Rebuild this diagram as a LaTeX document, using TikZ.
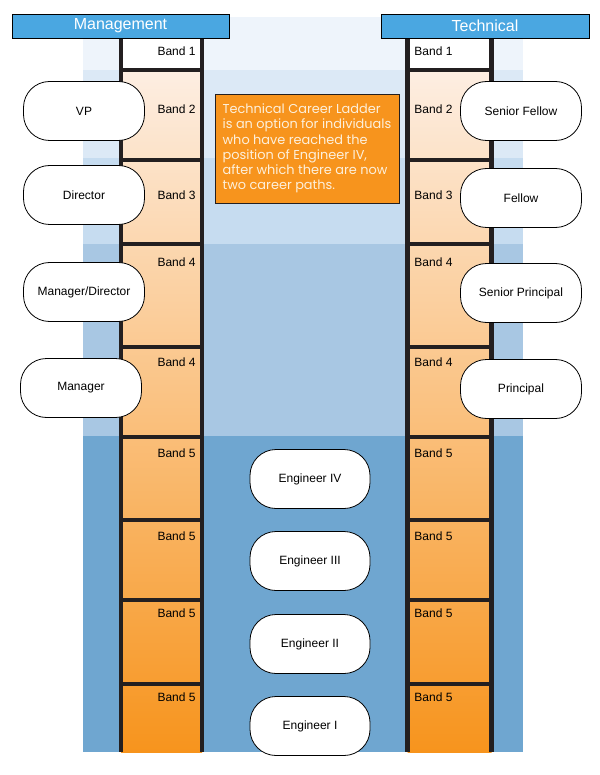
\documentclass[tikz,border=0pt]{standalone}
\usepackage{fontspec}
\setmainfont{Liberation Sans}
\newfontfamily\notefont{Poppins}

\definecolor{headblue}{HTML}{4AA7E1}
\definecolor{skyA}{HTML}{EEF4FB}
\definecolor{skyB}{HTML}{DCE9F6}
\definecolor{skyC}{HTML}{C6DCF0}
\definecolor{skyD}{HTML}{A8C7E3}
\definecolor{skyE}{HTML}{6FA6D0}
\definecolor{peach}{HTML}{FDEEE2}
\definecolor{deeporange}{HTML}{F7941D}
\definecolor{notetext}{HTML}{FDF0DC}
\definecolor{rail}{HTML}{231F20}

\begin{document}
\begin{tikzpicture}[x=1pt, y=-1pt, thick,
  header/.style={draw=black, fill=headblue, text=white, minimum height=24pt,
    inner sep=0pt, font=\fontsize{16}{18}\selectfont},
  rank/.style={draw=black, fill=white, rounded corners=26pt, minimum width=121pt,
    minimum height=59pt, inner sep=0pt, font=\fontsize{12}{14}\selectfont},
  bandlabel/.style={inner sep=0pt, font=\fontsize{12}{14}\selectfont},
  note/.style={draw=rail, fill=deeporange, text=notetext, align=left,
    minimum width=184pt, minimum height=109pt, inner sep=2pt,
    font={\notefont\fontsize{12.9}{15.2}\selectfont}}]
  \useasboundingbox (0,0) rectangle (599,775);

  % 1. Blue background, lighter towards the top
  \fill[skyA] (83,17) rectangle (523,70);
  \fill[skyB] (83,70) rectangle (523,158);
  \fill[skyC] (83,158) rectangle (523,244);
  \fill[skyD] (83,244) rectangle (523,436);
  \fill[skyE] (83,436) rectangle (523,752);

  % 2. Ladder insides: Band 1 white, then peach fading to orange
  \foreach \l/\r in {121/202, 407.5/491.5} {
    \fill[white] (\l,38) rectangle (\r,70);
    \shade[top color=peach, bottom color=deeporange] (\l,70) rectangle (\r,752);
  }

  % 3. Rails and rungs
  \foreach \x in {121, 202, 407.5, 491.5} {
    \draw[rail, line width=4.5pt] (\x,38) -- (\x,752);
  }
  \foreach \y in {70, 160, 244, 347, 437, 520, 600, 684} {
    \draw[rail, line width=4pt] (121,\y) -- (202,\y);
    \draw[rail, line width=4pt] (407.5,\y) -- (491.5,\y);
  }

  % 4. Band labels (right side of left ladder, left side of right ladder)
  \foreach \y/\label in {51/1, 109/2, 195/3, 262/4, 362/4, 453/5, 536/5, 613/5, 697/5} {
    \node[bandlabel, anchor=east] (mband\y) at (196,\y) {Band \label};
    \node[bandlabel, anchor=west] (tband\y) at (414,\y) {Band \label};
  }

  % 5. Track headers
  \node[header, minimum width=217pt] (mgmt) at (120.5,26) {Management};
  \node[header, minimum width=208pt] (tech) at (485,26) {Technical};

  % 6. Management positions
  \node[rank] (vp) at (84,111) {VP};
  \node[rank] (director) at (84,195) {Director};
  \node[rank] (mgrdir) at (84,292) {Manager/Director};
  \node[rank] (manager) at (81,388) {Manager};

  % 7. Technical positions
  \node[rank] (sfellow) at (521,111) {Senior Fellow};
  \node[rank] (fellow) at (521,198) {Fellow};
  \node[rank] (sprincipal) at (521,293) {Senior Principal};
  \node[rank] (principal) at (521,389) {Principal};

  % 8. Engineer levels in the middle
  \node[rank, minimum width=120pt] (eng4) at (310,479) {Engineer IV};
  \node[rank, minimum width=120pt] (eng3) at (310,561) {Engineer III};
  \node[rank, minimum width=120pt] (eng2) at (310,644) {Engineer II};
  \node[rank, minimum width=120pt] (eng1) at (310,726) {Engineer I};

  % 9. Note on the technical ladder
  \node[note] (ladder) at (307,148.5) {Technical Career Ladder\\
    is an option for individuals\\ who have reached the\\
    position of Engineer IV,\\ after which there are now\\ two career paths.};

\end{tikzpicture}
\end{document}
